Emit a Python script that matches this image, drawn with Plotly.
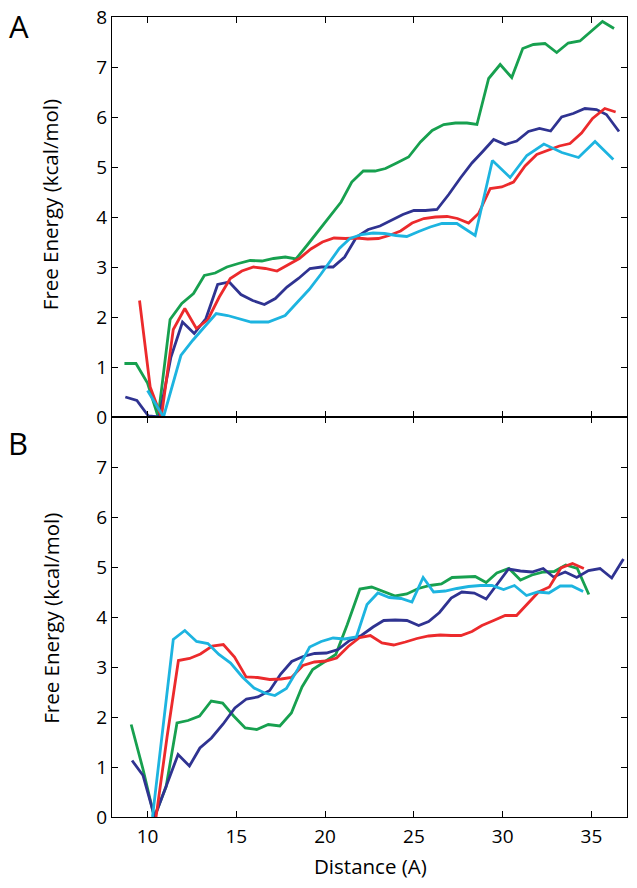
import plotly.graph_objects as go
from plotly.subplots import make_subplots

# Panel A
a_green_x = [8.7, 9.35, 10.0, 10.6, 11.27, 11.93, 12.59, 13.2, 13.81, 14.47, 15.12, 15.78, 16.44, 17.1, 17.76,
             18.36, 19.02, 19.68, 20.3, 20.9, 21.5, 22.15, 22.81, 23.4, 24.03, 24.7, 25.37, 26.03, 26.68, 27.34,
             27.99, 28.55, 29.21, 29.86, 30.51, 31.13, 31.73, 32.38, 33.04, 33.69, 34.35, 35.0, 35.62, 36.27]
a_green_y = [1.07, 1.07, 0.68, 0.0, 1.95, 2.27, 2.47, 2.83, 2.88, 3.0, 3.07, 3.13, 3.12, 3.17, 3.2,
             3.16, 3.45, 3.75, 4.02, 4.3, 4.7, 4.92, 4.92, 4.97, 5.08, 5.2, 5.5, 5.73, 5.85, 5.88,
             5.88, 5.85, 6.77, 7.05, 6.79, 7.37, 7.45, 7.47, 7.29, 7.48, 7.52, 7.72, 7.91, 7.77]

a_blue_x = [8.75, 9.4, 10.05, 10.66, 11.32, 11.97, 12.63, 13.29, 13.95, 14.6, 15.26, 15.92, 16.58, 17.2, 17.85,
            18.5, 19.15, 19.8, 20.45, 21.1, 21.77, 22.43, 23.09, 23.72, 24.38, 25.0, 25.65, 26.3, 26.96, 27.62,
            28.27, 28.85, 29.49, 30.14, 30.79, 31.45, 32.07, 32.7, 33.32, 33.97, 34.63, 35.28, 35.84, 36.55]
a_blue_y = [0.4, 0.33, 0.02, 0.0, 1.2, 1.9, 1.67, 1.97, 2.65, 2.7, 2.45, 2.33, 2.25, 2.37, 2.6,
            2.77, 2.97, 3.0, 3.0, 3.2, 3.6, 3.75, 3.82, 3.94, 4.05, 4.13, 4.13, 4.15, 4.45, 4.78,
            5.08, 5.3, 5.55, 5.45, 5.52, 5.71, 5.77, 5.72, 6.0, 6.07, 6.17, 6.15, 6.05, 5.71]

a_red_x = [9.55, 10.15, 10.78, 11.45, 12.1, 12.75, 13.4, 14.04, 14.66, 15.31, 15.97, 16.63, 17.29, 17.95,
           18.55, 19.2, 19.85, 20.5, 21.15, 21.8, 22.4, 23.0, 23.6, 24.25, 24.9, 25.56, 26.21, 26.87, 27.45,
           28.08, 28.64, 29.3, 29.95, 30.61, 31.26, 31.92, 32.57, 33.19, 33.79, 34.44, 35.06, 35.75, 36.36]
a_red_y = [2.33, 0.6, 0.0, 1.75, 2.17, 1.77, 1.95, 2.4, 2.77, 2.92, 3.0, 2.97, 2.92, 3.05,
           3.17, 3.36, 3.5, 3.58, 3.57, 3.58, 3.56, 3.57, 3.63, 3.72, 3.88, 3.97, 4.0, 4.01, 3.97,
           3.88, 4.07, 4.57, 4.6, 4.7, 5.02, 5.25, 5.33, 5.42, 5.47, 5.68, 5.97, 6.17, 6.1]

a_cyan_x = [10.0, 10.9, 11.88, 12.54, 13.2, 13.87, 14.51, 15.17, 15.83, 16.8, 17.75, 18.45, 19.1, 19.75,
            20.45, 20.8, 21.4, 22.05, 22.7, 23.35, 24.0, 24.6, 25.27, 25.92, 26.58, 27.42, 28.45, 29.42,
            30.42, 31.36, 32.32, 33.33, 34.27, 35.2, 36.23]
a_cyan_y = [0.53, 0.0, 1.23, 1.53, 1.8, 2.07, 2.03, 1.97, 1.9, 1.9, 2.03, 2.3, 2.55, 2.85,
            3.2, 3.37, 3.57, 3.65, 3.68, 3.67, 3.63, 3.61, 3.71, 3.8, 3.87, 3.87, 3.63, 5.13,
            4.79, 5.23, 5.46, 5.29, 5.19, 5.51, 5.15]

# Panel B
b_green_x = [9.08, 9.75, 10.38, 11.05, 11.66, 12.28, 12.93, 13.59, 14.23, 14.85, 15.5, 16.15, 16.8, 17.45,
             18.1, 18.7, 19.3, 19.95, 20.6, 21.25, 21.96, 22.62, 23.3, 23.95, 24.6, 25.25, 25.9, 26.55,
             27.15, 27.8, 28.45, 29.07, 29.67, 30.35, 31.0, 31.65, 32.3, 32.9, 33.55, 34.2, 34.85]
b_green_y = [1.85, 0.95, 0.0, 0.61, 1.88, 1.93, 2.02, 2.32, 2.28, 2.02, 1.78, 1.75, 1.85, 1.82,
             2.08, 2.6, 2.95, 3.1, 3.25, 3.85, 4.56, 4.6, 4.5, 4.42, 4.46, 4.57, 4.63, 4.66,
             4.79, 4.8, 4.81, 4.69, 4.88, 4.97, 4.74, 4.84, 4.9, 4.91, 5.04, 4.97, 4.45]

b_blue_x = [9.13, 9.75, 10.4, 11.08, 11.72, 12.36, 12.95, 13.6, 14.26, 14.92, 15.57, 16.22, 16.88, 17.5,
            18.12, 18.76, 19.41, 20.07, 20.73, 21.38, 22.04, 22.7, 23.3, 23.95, 24.61, 25.27, 25.83, 26.44,
            27.1, 27.7, 28.4, 29.07, 29.67, 30.33, 31.0, 31.65, 32.28, 32.86, 33.52, 34.17, 34.83, 35.48,
            36.14, 36.8]
b_blue_y = [1.13, 0.83, 0.0, 0.65, 1.25, 1.02, 1.38, 1.58, 1.86, 2.18, 2.36, 2.4, 2.53, 2.86,
            3.11, 3.21, 3.27, 3.28, 3.35, 3.53, 3.63, 3.8, 3.93, 3.94, 3.93, 3.83, 3.91, 4.09,
            4.38, 4.5, 4.48, 4.36, 4.65, 4.96, 4.92, 4.9, 4.97, 4.8, 4.9, 4.79, 4.93, 4.97,
            4.78, 5.16]

b_red_x = [10.48, 11.1, 11.74, 12.37, 12.98, 13.64, 14.27, 14.9, 15.55, 16.2, 16.88, 17.53, 18.11, 18.75,
           19.4, 20.05, 20.65, 21.3, 21.95, 22.55, 23.2, 23.86, 24.52, 25.17, 25.83, 26.48, 27.1, 27.65,
           28.27, 28.83, 29.49, 30.14, 30.78, 31.4, 32.02, 32.63, 33.28, 33.93, 34.57]
b_red_y = [0.0, 1.6, 3.13, 3.17, 3.26, 3.42, 3.45, 3.2, 2.8, 2.79, 2.75, 2.76, 2.79, 3.03,
           3.1, 3.12, 3.18, 3.41, 3.59, 3.63, 3.48, 3.44, 3.5, 3.57, 3.62, 3.64, 3.63, 3.63,
           3.71, 3.83, 3.93, 4.03, 4.03, 4.27, 4.5, 4.6, 4.98, 5.07, 4.97]

b_cyan_x = [10.28, 11.45, 12.1, 12.76, 13.4, 14.02, 14.68, 15.34, 16.0, 16.6, 17.17, 17.82, 18.47, 19.13,
            19.78, 20.45, 21.1, 21.76, 22.36, 22.97, 23.62, 24.28, 24.89, 25.52, 26.11, 26.76, 27.42,
            28.08, 28.74, 29.39, 30.05, 30.66, 31.34, 31.97, 32.6, 33.24, 33.89, 34.53]
b_cyan_y = [0.0, 3.55, 3.73, 3.51, 3.47, 3.25, 3.08, 2.8, 2.58, 2.48, 2.43, 2.57, 2.96, 3.4,
            3.51, 3.58, 3.56, 3.6, 4.25, 4.48, 4.39, 4.37, 4.3, 4.79, 4.5, 4.52, 4.57,
            4.61, 4.63, 4.63, 4.55, 4.63, 4.43, 4.5, 4.48, 4.62, 4.62, 4.51]

colors = {'green': '#17a04f', 'blue': '#2f3391', 'red': '#ec2a2c', 'cyan': '#1db4e0'}

panels = [
    [('green', a_green_x, a_green_y), ('blue', a_blue_x, a_blue_y),
     ('red', a_red_x, a_red_y), ('cyan', a_cyan_x, a_cyan_y)],
    [('green', b_green_x, b_green_y), ('blue', b_blue_x, b_blue_y),
     ('red', b_red_x, b_red_y), ('cyan', b_cyan_x, b_cyan_y)],
]

fig = make_subplots(rows=2, cols=1, shared_xaxes=True, vertical_spacing=0)

for row, series in enumerate(panels, start=1):
    for name, xs, ys in series:
        fig.add_trace(
            go.Scatter(x=xs, y=ys, mode='lines', name=name,
                       line=dict(color=colors[name], width=2.8)),
            row=row, col=1
        )

axis_style = dict(
    showline=True, mirror='ticks', linecolor='black', linewidth=1.3,
    ticks='inside', ticklen=6, tickwidth=1, tickcolor='black',
    showgrid=False, zeroline=False, automargin=False, ticklabeloverflow='allow',
    tickfont=dict(family='Open Sans', size=19, color='black'),
)

fig.update_xaxes(range=[8, 37], tickvals=[10, 15, 20, 25, 30, 35], ticklabelstandoff=2, **axis_style)
fig.update_xaxes(showticklabels=False, row=1, col=1)

fig.update_yaxes(range=[0, 8], tickvals=list(range(0, 9)), row=1, col=1, **axis_style)
fig.update_yaxes(range=[0, 8], tickvals=list(range(0, 8)), row=2, col=1, **axis_style)

# Titres et lettres des panneaux
title_font = dict(family='Open Sans', size=20.5, color='black')
letter_font = dict(family='Open Sans', size=31, color='black')
fig.add_annotation(text='Free Energy (kcal/mol)', x=-0.12, y=0.765, xref='paper', yref='paper',
                   xanchor='center', yanchor='middle', textangle=-90, showarrow=False, font=title_font)
fig.add_annotation(text='Free Energy (kcal/mol)', x=-0.12, y=0.248, xref='paper', yref='paper',
                   xanchor='center', yanchor='middle', textangle=-90, showarrow=False, font=title_font)
fig.add_annotation(text='Distance (A)', x=0.501, y=-0.061, xref='paper', yref='paper',
                   xanchor='center', yanchor='middle', showarrow=False, font=title_font)
fig.add_annotation(text='A', x=-0.181, y=0.989, xref='paper', yref='paper', showarrow=False,
                   xanchor='center', yanchor='middle', font=letter_font)
fig.add_annotation(text='B', x=-0.183, y=0.467, xref='paper', yref='paper', showarrow=False,
                   xanchor='center', yanchor='middle', font=letter_font)

fig.update_layout(
    width=637, height=888,
    margin=dict(l=112, r=10, t=17, b=71),
    showlegend=False,
    plot_bgcolor='white', paper_bgcolor='white',
)

# pas de marge autour de la figure dans la page, pas de barre d'outils
fig.write_html("out.html", config={'displayModeBar': False},
               post_script="document.body.style.margin = '0';")
